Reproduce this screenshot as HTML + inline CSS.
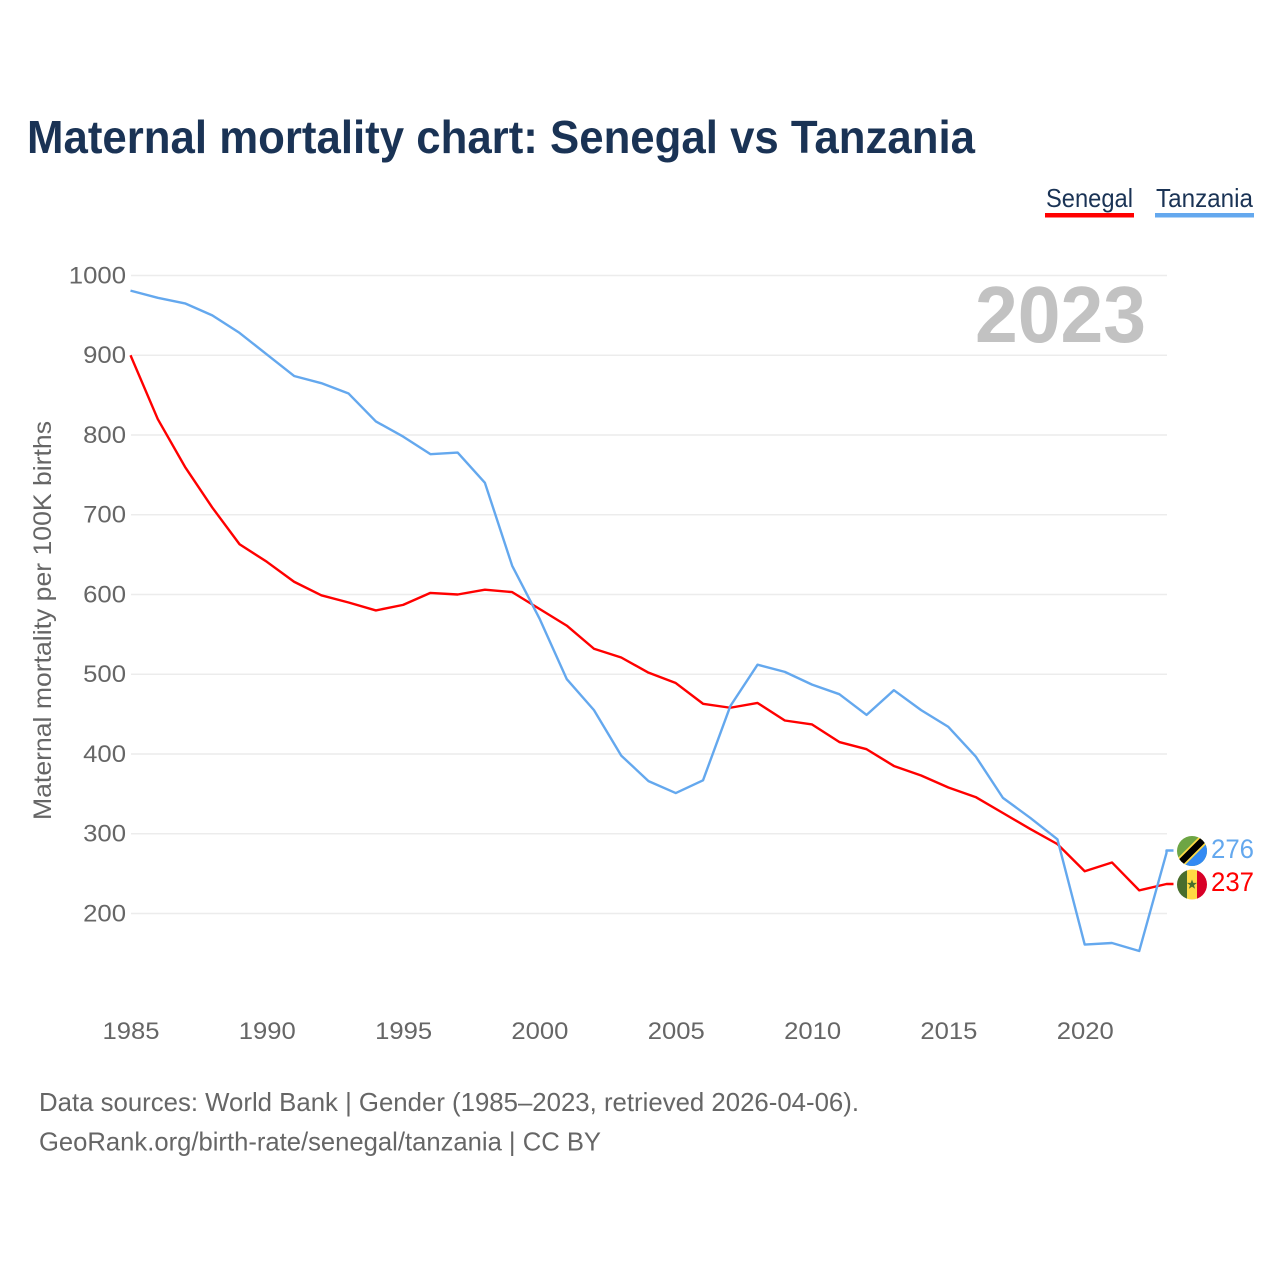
<!DOCTYPE html>
<html lang="en">
<head>
<meta charset="utf-8">
<title>Maternal mortality chart: Senegal vs Tanzania</title>
<style>
html,body{margin:0;padding:0;background:#fff;}
svg{display:block;}
text{font-family:"Liberation Sans",sans-serif;}
</style>
</head>
<body>
<svg id="chart" width="1280" height="1280" viewBox="0 0 1280 1280" xmlns="http://www.w3.org/2000/svg">
  <defs>
    <clipPath id="flag-clip"><circle cx="0" cy="0" r="15"/></clipPath>
  </defs>
  <rect width="1280" height="1280" fill="#ffffff"/>
  <text x="27" y="153" font-size="46" font-weight="700" fill="#1a3355" textLength="948" lengthAdjust="spacingAndGlyphs">Maternal mortality chart: Senegal vs Tanzania</text>

  <g>
    <g>
      <text x="1046" y="207" font-size="26" fill="#1a3355" textLength="87" lengthAdjust="spacingAndGlyphs">Senegal</text>
      <rect x="1045" y="213" width="89" height="4.5" fill="#ff0000"/>
    </g>
    <g>
      <text x="1156" y="207" font-size="26" fill="#1a3355" textLength="97" lengthAdjust="spacingAndGlyphs">Tanzania</text>
      <rect x="1155" y="213" width="99" height="4.5" fill="#64a8ee"/>
    </g>
  </g>

  <g id="grid"></g>
  <g id="y-ticks"></g>
  <g id="x-ticks"></g>

  <text transform="translate(51,820) rotate(-90)" font-size="25" fill="#666666" textLength="399" lengthAdjust="spacingAndGlyphs">Maternal mortality per 100K births</text>
  <text x="975" y="342" font-size="80" font-weight="700" fill="#c2c2c2" textLength="171" lengthAdjust="spacingAndGlyphs">2023</text>

  <g id="series"></g>
  <g id="end-labels"></g>

  <g id="flag-defs-source">
    <g id="flag-tanzania" clip-path="url(#flag-clip)">
      <rect x="-15" y="-15" width="30" height="30" fill="#6da544"/>
      <polygon points="15,-15 15,15 -15,15" fill="#338af3"/>
      <line x1="-17" y1="17" x2="17" y2="-17" stroke="#ffda44" stroke-width="10"/>
      <line x1="-17" y1="17" x2="17" y2="-17" stroke="#000000" stroke-width="6.5"/>
    </g>
    <g id="flag-senegal" clip-path="url(#flag-clip)">
      <rect x="-15" y="-15" width="10" height="30" fill="#496e2d"/>
      <rect x="-5" y="-15" width="10" height="30" fill="#ffda44"/>
      <rect x="5" y="-15" width="10" height="30" fill="#d80027"/>
      <polygon points="0,-5 1.3,-1.6 5,-1.6 2,0.7 3.1,4.3 0,2.2 -3.1,4.3 -2,0.7 -5,-1.6 -1.3,-1.6" fill="#496e2d"/>
    </g>
  </g>

  <text x="39" y="1111" font-size="26" fill="#666666" textLength="820" lengthAdjust="spacingAndGlyphs">Data sources: World Bank | Gender (1985–2023, retrieved 2026-04-06).</text>
  <text x="39" y="1150.5" font-size="26" fill="#666666" textLength="562" lengthAdjust="spacingAndGlyphs">GeoRank.org/birth-rate/senegal/tanzania | CC BY</text>

<script>
const years = [1985,1986,1987,1988,1989,1990,1991,1992,1993,1994,1995,1996,1997,1998,1999,2000,2001,2002,2003,2004,2005,2006,2007,2008,2009,2010,2011,2012,2013,2014,2015,2016,2017,2018,2019,2020,2021,2022,2023];
const senegal = [900,820,760,709,663,641,616,599,590,580,587,602,600,606,603,582,561,532,521,502,489,463,458,464,442,437,415,406,385,373,358,346,326,306,287,253,264,229,237];
const tanzania = [981,972,965,950,928,901,874,865,852,817,798,776,778,740,636,570,494,455,398,366,351,367,460,512,503,487,475,449,480,455,434,397,345,320,293,161,163,153,276];
const yTicks = [200,300,400,500,600,700,800,900,1000];
const xTicks = [1985,1990,1995,2000,2005,2010,2015,2020];

const NS = 'http://www.w3.org/2000/svg';
const X0 = 130.5, X1 = 1166.5, Y1000 = 275.5, Y200 = 913.5;
const xMin = years[0], xMax = years[years.length - 1];
function xScale(v) { return X0 + (v - xMin) / (xMax - xMin) * (X1 - X0); }
function yScale(v) { return Y200 + (v - 200) / 800 * (Y1000 - Y200); }
function mk(tag, attrs, parent) {
  const el = document.createElementNS(NS, tag);
  for (const k in attrs) el.setAttribute(k, attrs[k]);
  parent.appendChild(el);
  return el;
}

const grid = document.getElementById('grid');
const yG = document.getElementById('y-ticks');
yTicks.forEach(function (t) {
  const line = mk('line', {x1: 131, x2: 1167, y1: yScale(t), y2: yScale(t), stroke: '#ececec', 'stroke-width': 1.5}, grid);
  
  
  const label = mk('text', {x: 126, y: yScale(t) + 7.8, 'text-anchor': 'end', 'font-size': 24, fill: '#666666', textLength: String(t).length * 14.3, lengthAdjust: 'spacingAndGlyphs'}, yG);
  
  
  label.textContent = t;
});

const xG = document.getElementById('x-ticks');
xTicks.forEach(function (t) {
  const label = mk('text', {x: xScale(t) + 0.5, y: 1039, 'text-anchor': 'middle', 'font-size': 24, fill: '#666666', textLength: 57, lengthAdjust: 'spacingAndGlyphs'}, xG);
  
  
  label.textContent = t;
});

const lastS = senegal[senegal.length - 1];
const lastT = tanzania[tanzania.length - 1];
let labelYS = yScale(lastS);
let labelYT = yScale(lastT);
const minGap = 33.5;
if (Math.abs(labelYS - labelYT) < minGap) {
  if (labelYT <= labelYS) labelYT = labelYS - minGap; else labelYS = labelYT - minGap;
}

function linePath(vals, labelY) {
  const pts = vals.map(function (v, i) { return xScale(years[i]).toFixed(2) + ',' + yScale(v).toFixed(2); });
  return 'M' + pts.join('L') + 'L' + X1.toFixed(2) + ',' + labelY.toFixed(2) + 'L' + (X1 + 7) + ',' + labelY.toFixed(2);
}

const seriesG = document.getElementById('series');
const redLine = mk('path', {d: linePath(senegal, labelYS), fill: 'none', stroke: '#ff0000', 'stroke-width': 2.4, 'stroke-linejoin': 'round'}, seriesG);


const blueLine = mk('path', {d: linePath(tanzania, labelYT), fill: 'none', stroke: '#64a8ee', 'stroke-width': 2.4, 'stroke-linejoin': 'round'}, seriesG);



const endG = document.getElementById('end-labels');
const endT = mk('text', {x: 1211, y: labelYT + 7.5, 'font-size': 26.5, fill: '#64a8ee', textLength: 43, lengthAdjust: 'spacingAndGlyphs'}, endG);


endT.textContent = lastT;
const endS = mk('text', {x: 1211, y: labelYS + 7, 'font-size': 26.5, fill: '#ff0000', textLength: 43, lengthAdjust: 'spacingAndGlyphs'}, endG);


endS.textContent = lastS;

document.getElementById('flag-tanzania').setAttribute('transform', 'translate(1192,' + (labelYT + 0.5) + ')');
document.getElementById('flag-senegal').setAttribute('transform', 'translate(1192,' + (labelYS + 0.5) + ')');
</script>
</svg>
</body>
</html>
